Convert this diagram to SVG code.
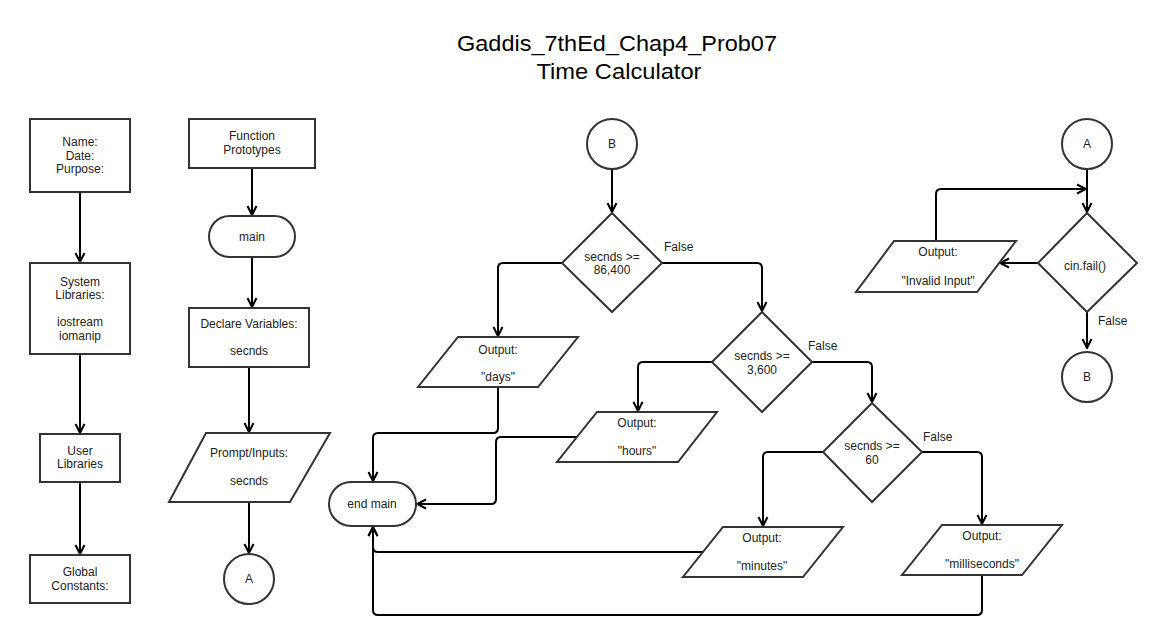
<svg xmlns="http://www.w3.org/2000/svg" width="1163" height="640" viewBox="0 0 1163 640">
<style>
.s{fill:#fff;stroke:#333;stroke-width:2}
.t{font-family:"Liberation Sans",Arial,sans-serif;font-size:12px;fill:#222;text-anchor:middle}
.l{font-family:"Liberation Sans",Arial,sans-serif;font-size:12px;fill:#222}
.ti{font-family:"Liberation Sans",Arial,sans-serif;font-size:22px;fill:#000;text-anchor:middle}
.c{fill:none;stroke:#000;stroke-width:2;stroke-linejoin:round;marker-end:url(#a)}
</style>
<defs>
<marker id="a" viewBox="0 0 12 12" refX="11" refY="6" markerWidth="12" markerHeight="12" markerUnits="userSpaceOnUse" orient="auto">
<path d="M2,1.5 L11,6 L2,10.5" fill="none" stroke="#000" stroke-width="2"/>
</marker>
</defs>
<rect width="1163" height="640" fill="#fff"/>
<g id="title">
<text class="ti" x="617" y="51" textLength="320" lengthAdjust="spacingAndGlyphs">Gaddis_7thEd_Chap4_Prob07</text>
<text class="ti" x="619" y="79" textLength="165" lengthAdjust="spacingAndGlyphs">Time Calculator</text>
</g>
<g id="connectors">
<path class="c" d="M80,192 V262"/>
<path class="c" d="M80,354 V433"/>
<path class="c" d="M80,482 V554"/>
<path class="c" d="M252,168 V215"/>
<path class="c" d="M252,257 V307"/>
<path class="c" d="M249,367 V432"/>
<path class="c" d="M249,502 V553"/>
<path class="c" d="M612,169 V212"/>
<path class="c" d="M562,263 H503 Q498,263 498,268 V336"/>
<path class="c" d="M662,263 H757 Q762,263 762,268 V311"/>
<path class="c" d="M498,387 V428 Q498,433 493,433 H378 Q373,433 373,438 V481"/>
<path class="c" d="M712,362 H643 Q638,362 638,367 V411"/>
<path class="c" d="M812,362 H867 Q872,362 872,367 V402"/>
<path class="c" d="M577,437 H501 Q496,437 496,442 V499 Q496,504 491,504 H417"/>
<path class="c" d="M823,452 H768 Q763,452 763,457 V526"/>
<path class="c" d="M922,452 H977 Q982,452 982,457 V524"/>
<path class="c" d="M703,552 H378 Q373,552 373,547 V527"/>
<path class="c" d="M982,575 V610 Q982,615 977,615 H378 Q373,615 373,610 V527"/>
<path class="c" d="M1087,169 V212"/>
<path class="c" d="M1038,263 H1000"/>
<path class="c" d="M936,241 V194 Q936,189 941,189 H1086"/>
<path class="c" d="M1087,312 V348"/>
<text class="l" x="664" y="251">False</text>
<text class="l" x="808" y="350">False</text>
<text class="l" x="923" y="441">False</text>
<text class="l" x="1098" y="325">False</text>
</g>
<g id="n-name">
<rect class="s" x="30" y="119" width="100" height="73"/>
<text class="t" x="80" y="146">Name:</text>
<text class="t" x="80" y="160">Date:</text>
<text class="t" x="80" y="173">Purpose:</text>
</g>
<g id="n-syslib">
<rect class="s" x="30" y="263" width="100" height="91"/>
<text class="t" x="80" y="286">System</text>
<text class="t" x="80" y="299">Libraries:</text>
<text class="t" x="80" y="326">iostream</text>
<text class="t" x="80" y="340">iomanip</text>
</g>
<g id="n-userlib">
<rect class="s" x="40" y="434" width="80" height="48"/>
<text class="t" x="80" y="455">User</text>
<text class="t" x="80" y="468">Libraries</text>
</g>
<g id="n-global">
<rect class="s" x="30" y="555" width="100" height="48"/>
<text class="t" x="80" y="576">Global</text>
<text class="t" x="80" y="590">Constants:</text>
</g>
<g id="n-proto">
<rect class="s" x="189" y="119" width="126" height="49"/>
<text class="t" x="252" y="140">Function</text>
<text class="t" x="252" y="154">Prototypes</text>
</g>
<g id="n-main">
<rect class="s" x="209" y="216" width="86" height="41" rx="20.5" ry="20.5"/>
<text class="t" x="252" y="241">main</text>
</g>
<g id="n-declare">
<rect class="s" x="189" y="308" width="120" height="59"/>
<text class="t" x="249" y="328">Declare Variables:</text>
<text class="t" x="249" y="355">secnds</text>
</g>
<g id="n-prompt">
<polygon class="s" points="206,433 330,433 290,502 169,502"/>
<text class="t" x="249" y="457">Prompt/Inputs:</text>
<text class="t" x="249" y="485">secnds</text>
</g>
<g id="n-a1">
<circle class="s" cx="249" cy="579" r="25"/>
<text class="t" x="249" y="583">A</text>
</g>
<g id="n-b1">
<circle class="s" cx="612" cy="144" r="25"/>
<text class="t" x="612" y="148">B</text>
</g>
<g id="n-d1">
<polygon class="s" points="612,213 662,263 612,312 562,263"/>
<text class="t" x="612" y="261">secnds &gt;=</text>
<text class="t" x="612" y="274">86,400</text>
</g>
<g id="n-days">
<polygon class="s" points="458,337 578,337 538,387 418,387"/>
<text class="t" x="498" y="354">Output:</text>
<text class="t" x="498" y="381">"days"</text>
</g>
<g id="n-d2">
<polygon class="s" points="762,312 812,362 762,412 712,362"/>
<text class="t" x="762" y="360">secnds &gt;=</text>
<text class="t" x="762" y="374">3,600</text>
</g>
<g id="n-hours">
<polygon class="s" points="597,412 717,412 678,462 557,462"/>
<text class="t" x="637" y="427">Output:</text>
<text class="t" x="637" y="455">"hours"</text>
</g>
<g id="n-d3">
<polygon class="s" points="872,403 922,452 872,502 823,452"/>
<text class="t" x="872" y="450">secnds &gt;=</text>
<text class="t" x="872" y="464">60</text>
</g>
<g id="n-minutes">
<polygon class="s" points="723,527 843,527 803,577 683,577"/>
<text class="t" x="762" y="542">Output:</text>
<text class="t" x="762" y="570">"minutes"</text>
</g>
<g id="n-millis">
<polygon class="s" points="942,525 1062,525 1022,575 902,575"/>
<text class="t" x="982" y="540">Output:</text>
<text class="t" x="982" y="568">"milliseconds"</text>
</g>
<g id="n-end">
<rect class="s" x="329" y="482" width="87" height="44" rx="22" ry="22"/>
<text class="t" x="372" y="508">end main</text>
</g>
<g id="n-a2">
<circle class="s" cx="1087" cy="144" r="25"/>
<text class="t" x="1087" y="148">A</text>
</g>
<g id="n-fail">
<polygon class="s" points="1087,213 1137,263 1087,312 1038,263"/>
<text class="t" x="1085" y="270">cin.fail()</text>
</g>
<g id="n-invalid">
<polygon class="s" points="894,241 1016,241 977,292 856,292"/>
<text class="t" x="938" y="256">Output:</text>
<text class="t" x="938" y="285">"Invalid Input"</text>
</g>
<g id="n-b2">
<circle class="s" cx="1087" cy="377" r="25"/>
<text class="t" x="1087" y="381">B</text>
</g>
</svg>
